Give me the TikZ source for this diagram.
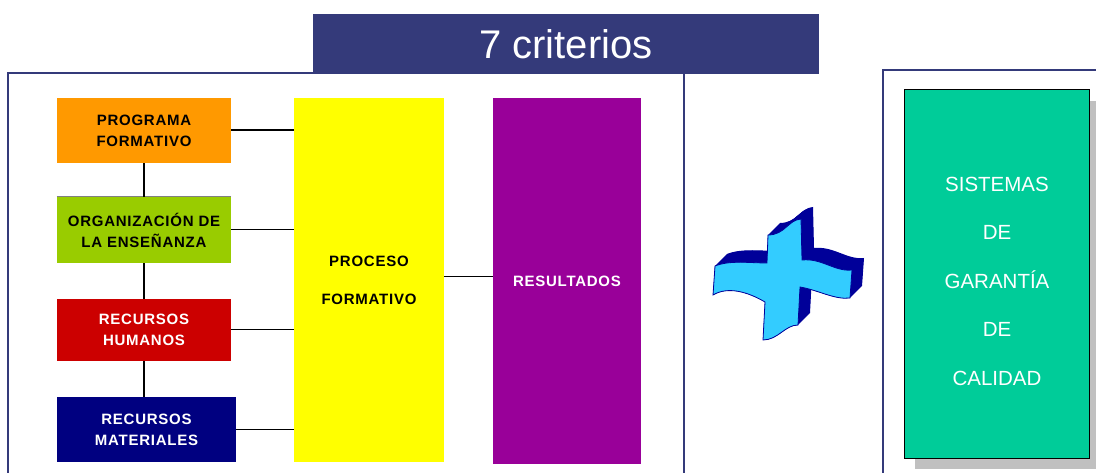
\documentclass[tikz,border=0pt]{standalone}
\usepackage{fontspec}
\setmainfont{Liberation Sans}
\newfontfamily\boxfont[LetterSpace=5]{Liberation Sans}
\usetikzlibrary{shadows}
\definecolor{titleblue}{RGB}{52,58,122}
\definecolor{framec}{RGB}{52,58,122}
\definecolor{orangeC}{RGB}{255,153,0}
\definecolor{greenC}{RGB}{153,204,0}
\definecolor{redC}{RGB}{204,0,0}
\definecolor{navyC}{RGB}{0,0,128}
\definecolor{yellowC}{RGB}{255,255,0}
\definecolor{purpleC}{RGB}{153,0,153}
\definecolor{tealC}{RGB}{0,204,153}
\definecolor{shadowgray}{RGB}{192,192,192}
\definecolor{crosslight}{RGB}{51,204,255}
\definecolor{crossdark}{RGB}{0,0,153}
\newcommand{\plusshape}[1]{\path[#1] (768,235) .. controls (785,235) and (788,220) .. (801,219) -- (802,260) .. controls (822,258) and (835,272) .. (852,270) -- (850,298) .. controls (835,300) and (818,290) .. (800,287) -- (798,325) .. controls (785,325) and (778,340) .. (763,340) -- (765,302) .. controls (748,292) and (728,286) .. (713,295) -- (715,266) .. controls (730,260) and (750,263) .. (767,263) -- cycle;}
\begin{document}
\begin{tikzpicture}[x=1pt,y=-1pt,
  box/.style={rectangle, inner sep=0pt, align=center, font=\boxfont\bfseries\fontsize{15}{21}\selectfont},
  conn/.style={line width=1pt, black},
  connthick/.style={line width=2pt, black},
  frame/.style={draw=framec, line width=1.2pt}]
\useasboundingbox (0,0) rectangle (1096,473);
% frames
\draw[frame] (8,473) -- (8,73) -- (684,73) -- (684,473);
\draw[frame] (883,473) -- (883,70) -- (1096,70);
% title
\node[fill=titleblue, minimum width=506pt, minimum height=60pt, inner sep=0pt, text=white, font=\fontsize{40}{48}\selectfont] (title) at (566,44) {7 criterios};
% boxes
\node[box, fill=orangeC, minimum width=174pt, minimum height=65pt] (prog) at (144,130.5) {PROGRAMA\\FORMATIVO};
\node[box, fill=greenC, minimum width=174pt, minimum height=66pt] (org) at (144,230) {ORGANIZACIÓN DE\\LA ENSEÑANZA};
\node[box, fill=redC, text=white, minimum width=174pt, minimum height=62pt] (hum) at (144,330) {RECURSOS\\HUMANOS};
\node[box, fill=navyC, text=white, minimum width=179pt, minimum height=65pt] (mat) at (146.5,429.5) {RECURSOS\\MATERIALES};
\node[box, fill=yellowC, minimum width=150pt, minimum height=364pt, font=\boxfont\bfseries\fontsize{15}{38}\selectfont] (proc) at (369,280) {PROCESO\\FORMATIVO};
\node[box, fill=purpleC, text=white, minimum width=148pt, minimum height=366pt] (res) at (567,281) {RESULTADOS};
\draw[gray, line width=1pt] (org.north west) -- (org.north east);
% connectors
\draw[connthick] (prog.east) -- (prog.east -| proc.west);
\draw[conn] (org.east) -- (org.east -| proc.west);
\draw[conn] (hum.east) -- (hum.east -| proc.west);
\draw[conn] (mat.east) -- (mat.east -| proc.west);
\draw[connthick] (prog.south) -- (org.north);
\draw[connthick] (org.south) -- (hum.north);
\draw[connthick] (hum.south) -- (hum.south |- mat.north);
\draw[conn] ([yshift=3pt]proc.east) -- ([yshift=3pt]proc.east -| res.west);
% plus sign
\foreach \s in {0,0.5,...,12} {\plusshape{fill=crossdark, shift={(\s,-\s)}}}
\plusshape{fill=crosslight, draw=crossdark, line width=0.8pt}
% quality box
\node[draw=black, line width=1pt, fill=tealC, minimum width=185pt, minimum height=368pt, inner sep=0pt,
  drop shadow={shadow xshift=11pt, shadow yshift=-11pt, fill=shadowgray, opacity=1}] (sgc) at (996.5,274) {};
\node[font=\fontsize{20.5}{48.5}\selectfont, text=white, align=center] (sgct) at (997,281) {SISTEMAS\\DE\\GARANTÍA\\DE\\CALIDAD};
\end{tikzpicture}
\end{document}
